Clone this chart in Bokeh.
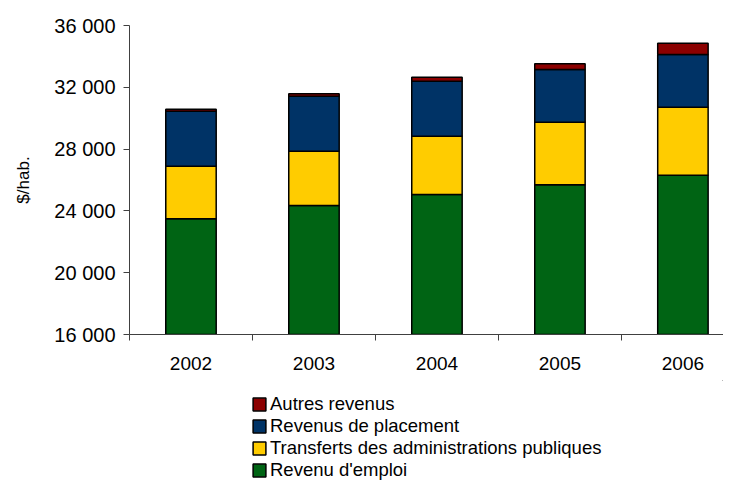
from bokeh.plotting import figure
from bokeh.models import Range1d, FixedTicker, Legend, LegendItem, ColumnDataSource
from bokeh.layouts import column
from bokeh.embed import file_html
from bokeh.resources import INLINE

years = ["2002", "2003", "2004", "2005", "2006"]
emploi = [23500, 24350, 25060, 25690, 26310]
transferts = [3390, 3510, 3770, 4050, 4400]
placement = [3560, 3560, 3560, 3410, 3410]
autres = [130, 160, 260, 370, 730]
y_ticks = [16000, 20000, 24000, 28000, 32000, 36000]
y_tick_labels = ["16 000", "20 000", "24 000", "28 000", "32 000", "36 000"]

names = ["Revenu d'emploi", "Transferts des administrations publiques",
         "Revenus de placement", "Autres revenus"]
colors = ["#006414", "#FFCC00", "#003366", "#8B0000"]
series = [emploi, transferts, placement, autres]

FONT = "Liberation Sans"

p = figure(width=723, height=380, output_backend="svg", toolbar_location=None,
           x_range=Range1d(-0.5, 4.33), y_range=Range1d(16000, 36000),
           min_border_left=129, min_border_top=25, min_border_bottom=46,
           min_border_right=0)
p.outline_line_color = None
p.grid.grid_line_color = None
p.background_fill_color = "white"
p.border_fill_color = "white"

xs = list(range(len(years)))
bottom = [0] * len(years)
for vals, col in zip(series, colors):
    top = [b + v for b, v in zip(bottom, vals)]
    src = ColumnDataSource(dict(x=xs, bottom=bottom, top=top))
    p.vbar(x="x", bottom="bottom", top="top", width=0.41, source=src,
           fill_color=col, line_color="black", line_width=1.5)
    bottom = top

# x axis
p.xaxis.ticker = FixedTicker(ticks=xs, minor_ticks=[i - 0.5 for i in range(len(years))] + [len(years) - 0.5])
p.xaxis.major_label_overrides = {i: y for i, y in enumerate(years)}
p.xaxis.major_tick_out = 0
p.xaxis.major_tick_in = 0
p.xaxis.minor_tick_out = 6
p.xaxis.minor_tick_in = 0
p.xaxis.minor_tick_line_color = "#404040"
p.xaxis.axis_line_color = "#404040"
p.xaxis.major_label_standoff = 16
p.xaxis.major_label_text_font = FONT
p.xaxis.major_label_text_font_size = "19px"
p.xaxis.major_label_text_color = "black"

# y axis
p.yaxis.ticker = FixedTicker(ticks=y_ticks)
p.yaxis.major_label_overrides = {t: l for t, l in zip(y_ticks, y_tick_labels)}
p.yaxis.major_tick_out = 6
p.yaxis.major_tick_in = 0
p.yaxis.minor_tick_line_color = None
p.yaxis.major_tick_line_color = "#404040"
p.yaxis.axis_line_color = "#404040"
p.yaxis.major_label_standoff = 8
p.yaxis.major_label_text_font = FONT
p.yaxis.major_label_text_font_size = "20px"
p.yaxis.major_label_text_color = "black"
p.yaxis.axis_label = "$/hab."
p.yaxis.axis_label_text_font = FONT
p.yaxis.axis_label_text_font_size = "17px"
p.yaxis.axis_label_text_font_style = "normal"
p.yaxis.axis_label_text_color = "black"
p.yaxis.axis_label_standoff = 18

# legend in a second, axis-less figure (its swatch renderers sit outside its range)
q = figure(width=723, height=101, output_backend="svg", toolbar_location=None,
           x_range=Range1d(0, 1), y_range=Range1d(0, 1),
           x_axis_location=None, y_axis_location=None,
           min_border_left=0, min_border_right=0, min_border_top=0, min_border_bottom=0)
q.grid.visible = False
q.outline_line_color = None
renderers = []
for col in colors:
    renderers.append(q.vbar(x=[5], top=[5], bottom=[4], width=0.5, fill_color=col,
                            line_color="black", line_width=1.5))
items = [LegendItem(label=n, renderers=[r]) for n, r in zip(names, renderers)][::-1]
legend = Legend(items=items, location=(122, 0), orientation="vertical",
                margin=0, padding=0, spacing=-1, glyph_width=16, glyph_height=16,
                label_height=18, label_standoff=3,
                label_text_font=FONT, label_text_font_size="18.5px",
                label_text_color="black", border_line_color=None,
                background_fill_alpha=0)
q.add_layout(legend, "center")

open("out.html", "w").write(file_html(column(p, q, spacing=0), INLINE))
